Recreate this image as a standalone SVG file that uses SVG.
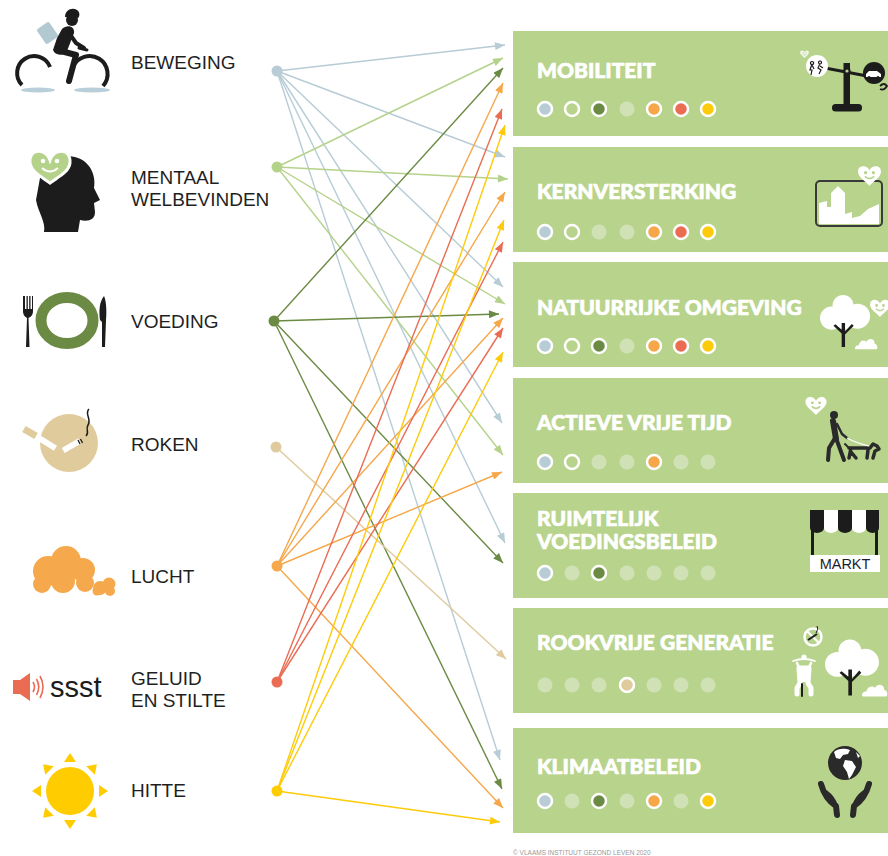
<svg xmlns="http://www.w3.org/2000/svg" width="888" height="856" viewBox="0 0 888 856">
  <style>
    .lbl { font-family: "Liberation Sans", Arial, sans-serif; font-size: 19px; fill: #1f1f1f; }
    .ttl { font-family: Lato, "Open Sans", sans-serif; font-weight: 900; font-size: 21px; fill: #ffffff; stroke: #ffffff; stroke-width: 0.7; }
    .box { fill: #b8d38c; }
    .dot { stroke: #ffffff; stroke-width: 2.5; }
    .off { fill: #d0e2b5; }
    .open { fill: #b8d38c; stroke: #ffffff; stroke-width: 2.5; }
    .ink { fill: #1c1c1c; }
    .wht { fill: #ffffff; }
    .conn line { stroke-width: 1.4; fill: none; }
    .c-bw { stroke: #b7ccd5; }
    .c-mw { stroke: #b5d28a; }
    .c-vd { stroke: #6b8a43; }
    .c-rk { stroke: #dfcb9d; }
    .c-lc { stroke: #f5a74a; }
    .c-gl { stroke: #ea6c53; }
    .c-ht { stroke: #fdcb0a; }
  </style>
  <defs>
    <marker id="ah-bw" viewBox="0 0 10 8" refX="10" refY="4" markerWidth="11" markerHeight="8" markerUnits="userSpaceOnUse" orient="auto"><path d="M0,0L10,4L0,8z" fill="#b7ccd5"/></marker>
    <marker id="ah-mw" viewBox="0 0 10 8" refX="10" refY="4" markerWidth="11" markerHeight="8" markerUnits="userSpaceOnUse" orient="auto"><path d="M0,0L10,4L0,8z" fill="#b5d28a"/></marker>
    <marker id="ah-vd" viewBox="0 0 10 8" refX="10" refY="4" markerWidth="11" markerHeight="8" markerUnits="userSpaceOnUse" orient="auto"><path d="M0,0L10,4L0,8z" fill="#6b8a43"/></marker>
    <marker id="ah-rk" viewBox="0 0 10 8" refX="10" refY="4" markerWidth="11" markerHeight="8" markerUnits="userSpaceOnUse" orient="auto"><path d="M0,0L10,4L0,8z" fill="#dfcb9d"/></marker>
    <marker id="ah-lc" viewBox="0 0 10 8" refX="10" refY="4" markerWidth="11" markerHeight="8" markerUnits="userSpaceOnUse" orient="auto"><path d="M0,0L10,4L0,8z" fill="#f5a74a"/></marker>
    <marker id="ah-gl" viewBox="0 0 10 8" refX="10" refY="4" markerWidth="11" markerHeight="8" markerUnits="userSpaceOnUse" orient="auto"><path d="M0,0L10,4L0,8z" fill="#ea6c53"/></marker>
    <marker id="ah-ht" viewBox="0 0 10 8" refX="10" refY="4" markerWidth="11" markerHeight="8" markerUnits="userSpaceOnUse" orient="auto"><path d="M0,0L10,4L0,8z" fill="#fdcb0a"/></marker>
    <!-- white heart with a smiling face, used on the policy tiles -->
    <symbol id="smile-heart" viewBox="0 0 20 18">
      <path d="M10,4.5C8,-0.5 0,-0.5 0,5.5C0,10.5 6,13.5 10,18C14,13.5 20,10.5 20,5.5C20,-0.5 12,-0.5 10,4.5Z" fill="#ffffff"/>
      <circle cx="6.6" cy="6.5" r="1.4" fill="#b8d38c"/>
      <circle cx="13.4" cy="6.5" r="1.4" fill="#b8d38c"/>
      <path d="M6,9.8Q10,13.6 14,9.8" fill="none" stroke="#b8d38c" stroke-width="1.4"/>
    </symbol>
    <!-- white tree with black trunk -->
    <symbol id="tree" viewBox="0 0 54 54">
      <circle cx="24" cy="11" r="11" fill="#ffffff"/>
      <circle cx="12" cy="24" r="12" fill="#ffffff"/>
      <circle cx="39" cy="22" r="13" fill="#ffffff"/>
      <circle cx="25" cy="26" r="10" fill="#ffffff"/>
      <path d="M22.5,54V40L14,32L16,30.5L22.5,36V29H26V38L33,30L35,32L26,41V54Z" fill="#1c1c1c"/>
    </symbol>
    <symbol id="cloud-w" viewBox="0 0 24 12">
      <path d="M1,12C-1,12 0,7 4,7.5C4.5,3.5 9,1 12,4C14,-0.5 21,0.5 20.5,6C24,6.5 24,12 22,12Z" fill="#ffffff"/>
    </symbol>
  </defs>

  <!-- ===== connectors ===== -->
  <g id="connectors" class="conn">
    <!-- beweging -->
    <line class="c-bw" x1="277" y1="71" x2="505" y2="45" marker-end="url(#ah-bw)"/>
    <line class="c-bw" x1="277" y1="71" x2="505" y2="157" marker-end="url(#ah-bw)"/>
    <line class="c-bw" x1="277" y1="71" x2="503" y2="287" marker-end="url(#ah-bw)"/>
    <line class="c-bw" x1="277" y1="71" x2="502" y2="423" marker-end="url(#ah-bw)"/>
    <line class="c-bw" x1="277" y1="71" x2="505" y2="543" marker-end="url(#ah-bw)"/>
    <line class="c-bw" x1="277" y1="71" x2="500" y2="760" marker-end="url(#ah-bw)"/>
    <!-- mentaal welbevinden -->
    <line class="c-mw" x1="277" y1="167" x2="503" y2="58" marker-end="url(#ah-mw)"/>
    <line class="c-mw" x1="277" y1="167" x2="508" y2="179" marker-end="url(#ah-mw)"/>
    <line class="c-mw" x1="277" y1="167" x2="505" y2="304" marker-end="url(#ah-mw)"/>
    <line class="c-mw" x1="277" y1="167" x2="503" y2="455" marker-end="url(#ah-mw)"/>
    <!-- voeding -->
    <line class="c-vd" x1="274" y1="321" x2="503" y2="68" marker-end="url(#ah-vd)"/>
    <line class="c-vd" x1="274" y1="321" x2="499" y2="314" marker-end="url(#ah-vd)"/>
    <line class="c-vd" x1="274" y1="321" x2="503" y2="563" marker-end="url(#ah-vd)"/>
    <line class="c-vd" x1="274" y1="321" x2="502" y2="789" marker-end="url(#ah-vd)"/>
    <!-- roken -->
    <line class="c-rk" x1="276" y1="447" x2="506" y2="659" marker-end="url(#ah-rk)"/>
    <!-- lucht -->
    <line class="c-lc" x1="277" y1="566" x2="503" y2="83" marker-end="url(#ah-lc)"/>
    <line class="c-lc" x1="277" y1="566" x2="505" y2="192" marker-end="url(#ah-lc)"/>
    <line class="c-lc" x1="277" y1="566" x2="503" y2="318" marker-end="url(#ah-lc)"/>
    <line class="c-lc" x1="277" y1="566" x2="502" y2="472" marker-end="url(#ah-lc)"/>
    <line class="c-lc" x1="277" y1="566" x2="503" y2="808" marker-end="url(#ah-lc)"/>
    <!-- geluid en stilte -->
    <line class="c-gl" x1="277" y1="682" x2="502" y2="109" marker-end="url(#ah-gl)"/>
    <line class="c-gl" x1="277" y1="682" x2="503" y2="242" marker-end="url(#ah-gl)"/>
    <line class="c-gl" x1="277" y1="682" x2="503" y2="328" marker-end="url(#ah-gl)"/>
    <!-- hitte -->
    <line class="c-ht" x1="277" y1="791" x2="505" y2="125" marker-end="url(#ah-ht)"/>
    <line class="c-ht" x1="277" y1="791" x2="504" y2="220" marker-end="url(#ah-ht)"/>
    <line class="c-ht" x1="277" y1="791" x2="503" y2="352" marker-end="url(#ah-ht)"/>
    <line class="c-ht" x1="277" y1="791" x2="500" y2="822" marker-end="url(#ah-ht)"/>
  </g>

  <!-- ===== health themes (left) ===== -->
  <g id="n-beweging">
    <ellipse cx="38" cy="90" rx="17" ry="2.6" fill="#b8cfd9"/>
    <ellipse cx="92" cy="90" rx="18" ry="2.6" fill="#b8cfd9"/>
    <path d="M22,85A17,17 0 1 1 50,67" fill="none" stroke="#1c1c1c" stroke-width="4"/>
    <path d="M73,67A18,18 0 1 1 103,86" fill="none" stroke="#1c1c1c" stroke-width="4"/>
    <rect x="40" y="24" width="15" height="18" rx="2" fill="#b3c9d2" transform="rotate(-35 47.5 33)"/>
    <path d="M65,17C65,10 72,7 77,10C80,12 80,16 78,18Z" class="ink"/>
    <circle cx="72" cy="20" r="6" class="ink"/>
    <path d="M62,29C67,24 75,26 74,33L67,51C64,56 55,56 53,50L57,38Z" class="ink"/>
    <path d="M69,33L76,43L84,48" fill="none" stroke="#1c1c1c" stroke-width="4" stroke-linecap="round" stroke-linejoin="round"/>
    <path d="M57,50L76,55L69,81" fill="none" stroke="#1c1c1c" stroke-width="6" stroke-linecap="round" stroke-linejoin="round"/>
    <path d="M79,48L87,50" stroke="#1c1c1c" stroke-width="3" stroke-linecap="round"/>
    <text class="lbl" x="131" y="69">BEWEGING</text>
    <circle cx="277" cy="71" r="5.5" fill="#b7ccd5"/>
  </g>

  <g id="n-mentaal">
    <path d="M40,178C38,160 60,152 78,158C92,163 96,178 94,188L100,200L94,203L95,212C95,220 88,222 80,220L78,232L44,232C46,222 38,212 36,200Z" class="ink"/>
    <path d="M50,160C46,148 29,148 30,163C31,172 42,177 50,183C58,177 69,172 70,163C71,148 54,148 50,160Z" fill="#b5d28a" stroke="#ffffff" stroke-width="3"/>
    <circle cx="43" cy="161" r="2.3" fill="#ffffff"/>
    <circle cx="57" cy="161" r="2.3" fill="#ffffff"/>
    <path d="M42,168Q50,175 58,168" fill="none" stroke="#ffffff" stroke-width="2"/>
    <text class="lbl" x="131" y="184">MENTAAL</text>
    <text class="lbl" x="131" y="206">WELBEVINDEN</text>
    <circle cx="277" cy="167" r="5.5" fill="#b5d28a"/>
  </g>

  <g id="n-voeding">
    <path d="M23,296V311C23,316 26,317 27,318L26,347H29.5L28.5,318C30,317 33,316 33,311V296H32V309H30.5V296H29.2V309H27.8V296H26.5V309H25V296Z" class="ink"/>
    <ellipse cx="67" cy="320.5" rx="26" ry="23" fill="none" stroke="#6b8a43" stroke-width="11"/>
    <path d="M104,296C99,302 99,312 100,320L102,322L102,347H105L106,320C107,310 106,300 104,296Z" class="ink"/>
    <text class="lbl" x="131" y="328">VOEDING</text>
    <circle cx="274" cy="321" r="5.5" fill="#6b8a43"/>
  </g>

  <g id="n-roken">
    <circle cx="69" cy="443" r="29" fill="#e0cb9c"/>
    <rect x="23" y="429" width="14" height="7" fill="#e0cb9c" transform="rotate(30 30 432.5)"/>
    <rect x="38" y="440" width="19" height="6" fill="#ffffff" transform="rotate(32 47 443)"/>
    <rect x="62" y="443" width="19" height="6" fill="#ffffff" transform="rotate(-30 71 446)"/>
    <path d="M78,440L80,444M80.5,439L82.5,443" stroke="#1c1c1c" stroke-width="1.3"/>
    <path d="M89,409C84,414 92,419 88,425C85,430 90,432 86,436" fill="none" stroke="#1c1c1c" stroke-width="1.5"/>
    <text class="lbl" x="131" y="451">ROKEN</text>
    <circle cx="276" cy="447" r="5.5" fill="#dfcb9d"/>
  </g>

  <g id="n-lucht" fill="#f6a94c">
    <circle cx="48" cy="571" r="15"/>
    <circle cx="66" cy="561" r="15"/>
    <circle cx="83" cy="570" r="12"/>
    <circle cx="85" cy="583" r="9"/>
    <circle cx="63" cy="581" r="12"/>
    <circle cx="42" cy="584" r="9"/>
    <circle cx="100" cy="588" r="7"/>
    <circle cx="109" cy="584" r="6.5"/>
    <circle cx="110" cy="591" r="5"/>
    <circle cx="97" cy="591" r="4.5"/>
    <text class="lbl" x="131" y="583">LUCHT</text>
    <circle cx="277" cy="566" r="5.5"/>
  </g>

  <g id="n-geluid">
    <path d="M13,680H20L30,673V701L20,694H13Z" fill="#ea6c53"/>
    <path d="M33,682Q36,687 33,692M36.5,679Q41,687 36.5,695M40,676Q46,687 40,698" fill="none" stroke="#ea6c53" stroke-width="1.6"/>
    <text x="50" y="697" font-family="Liberation Sans, Arial, sans-serif" font-size="29" fill="#1c1c1c">ssst</text>
    <text class="lbl" x="131" y="685">GELUID</text>
    <text class="lbl" x="131" y="707">EN STILTE</text>
    <circle cx="277" cy="682" r="5.5" fill="#ea6c53"/>
  </g>

  <g id="n-hitte" fill="#ffcc00">
    <circle cx="70" cy="791" r="24"/>
    <g transform="translate(70 791)">
      <path d="M-6,-29L0,-38L6,-29Z"/>
      <path d="M-6,-29L0,-38L6,-29Z" transform="rotate(45)"/>
      <path d="M-6,-29L0,-38L6,-29Z" transform="rotate(90)"/>
      <path d="M-6,-29L0,-38L6,-29Z" transform="rotate(135)"/>
      <path d="M-6,-29L0,-38L6,-29Z" transform="rotate(180)"/>
      <path d="M-6,-29L0,-38L6,-29Z" transform="rotate(225)"/>
      <path d="M-6,-29L0,-38L6,-29Z" transform="rotate(270)"/>
      <path d="M-6,-29L0,-38L6,-29Z" transform="rotate(315)"/>
    </g>
    <text class="lbl" x="131" y="797">HITTE</text>
    <circle cx="277" cy="791" r="5.5"/>
  </g>

  <!-- ===== policy tiles (right) ===== -->
  <g id="b-mobiliteit">
    <rect class="box" x="513" y="31" width="380" height="105"/>
    <text class="ttl" x="537" y="78">MOBILITEIT</text>
    <circle class="dot" cx="545" cy="109" r="7" fill="#b7ccd5"/>
    <circle class="open" cx="572" cy="109" r="7"/>
    <circle class="dot" cx="599" cy="109" r="7" fill="#6b8a43"/>
    <circle class="off" cx="627" cy="109" r="7.5"/>
    <circle class="dot" cx="654" cy="109" r="7" fill="#f5a74a"/>
    <circle class="dot" cx="681" cy="109" r="7" fill="#ea6c53"/>
    <circle class="dot" cx="708" cy="109" r="7" fill="#fdcb0a"/>
    <path d="M825,68L867,76" stroke="#1c1c1c" stroke-width="3"/>
    <rect x="843.5" y="63" width="6.5" height="44" class="ink"/>
    <circle cx="847" cy="71" r="3.6" class="ink"/>
    <circle cx="847" cy="71" r="1.6" fill="#b8d38c"/>
    <rect x="832" y="104" width="30" height="7.5" rx="3.5" class="ink"/>
    <circle cx="817" cy="66" r="11" class="wht"/>
    <path d="M812,61.5a1.6,1.6 0 1 0 0.1,0ZM812,64L810,70L812,70L811,75M812,65L814,69M820,61a1.5,1.5 0 1 0 0.1,0ZM820,63.5L818,68L821,70L819,74M820,66L823,68" fill="none" stroke="#1c1c1c" stroke-width="1.2"/>
    <circle cx="874" cy="73" r="11" class="ink"/>
    <path d="M866,77V74L869,71H877L881,74V77Z" fill="#ffffff"/>
    <circle cx="869" cy="77.5" r="1.6" class="ink"/>
    <circle cx="878" cy="77.5" r="1.6" class="ink"/>
    <use href="#smile-heart" x="800" y="50" width="9" height="8" opacity="0.8"/>
    <path d="M880,86Q884,82 887,86Q884,91 880,89" fill="none" stroke="#1c1c1c" stroke-width="1.8"/>
  </g>

  <g id="b-kernversterking">
    <rect class="box" x="513" y="147" width="380" height="105"/>
    <text class="ttl" x="537" y="199">KERNVERSTERKING</text>
    <circle class="dot" cx="545" cy="232" r="7" fill="#b7ccd5"/>
    <circle class="open" cx="572" cy="232" r="7"/>
    <circle class="off" cx="599" cy="232" r="7.5"/>
    <circle class="off" cx="627" cy="232" r="7.5"/>
    <circle class="dot" cx="654" cy="232" r="7" fill="#f5a74a"/>
    <circle class="dot" cx="681" cy="232" r="7" fill="#ea6c53"/>
    <circle class="dot" cx="708" cy="232" r="7" fill="#fdcb0a"/>
    <rect x="816" y="181" width="66" height="45" rx="4" fill="none" stroke="#3a3a3a" stroke-width="2"/>
    <path d="M819,224V203L827,201V207H831V193L838,186L845,193V214L852,212V218L860,216L868,209L879,204V224Z" class="wht"/>
    <use href="#smile-heart" x="858" y="165" width="23" height="21"/>
  </g>

  <g id="b-natuurrijke">
    <rect class="box" x="513" y="262" width="380" height="105"/>
    <text class="ttl" x="537" y="315">NATUURRIJKE OMGEVING</text>
    <circle class="dot" cx="545" cy="346" r="7" fill="#b7ccd5"/>
    <circle class="open" cx="572" cy="346" r="7"/>
    <circle class="dot" cx="599" cy="346" r="7" fill="#6b8a43"/>
    <circle class="off" cx="627" cy="346" r="7.5"/>
    <circle class="dot" cx="654" cy="346" r="7" fill="#f5a74a"/>
    <circle class="dot" cx="681" cy="346" r="7" fill="#ea6c53"/>
    <circle class="dot" cx="708" cy="346" r="7" fill="#fdcb0a"/>
    <use href="#tree" x="820" y="295" width="52" height="52"/>
    <use href="#cloud-w" x="855" y="338" width="23" height="11.5"/>
    <use href="#smile-heart" x="870" y="299" width="20" height="18"/>
  </g>

  <g id="b-actieve">
    <rect class="box" x="513" y="378" width="380" height="105"/>
    <text class="ttl" x="537" y="430">ACTIEVE VRIJE TIJD</text>
    <circle class="dot" cx="545" cy="462" r="7" fill="#b7ccd5"/>
    <circle class="open" cx="572" cy="462" r="7"/>
    <circle class="off" cx="599" cy="462" r="7.5"/>
    <circle class="off" cx="627" cy="462" r="7.5"/>
    <circle class="dot" cx="654" cy="462" r="7" fill="#f5a74a"/>
    <circle class="off" cx="681" cy="462" r="7.5"/>
    <circle class="off" cx="708" cy="462" r="7.5"/>
    <use href="#smile-heart" x="805" y="396" width="22" height="19"/>
    <g fill="#2a2a2a" stroke="#2a2a2a" stroke-linecap="round" stroke-linejoin="round">
      <circle cx="834" cy="415" r="4" stroke="none"/>
      <path d="M833,421L836,439" stroke-width="6" fill="none"/>
      <path d="M835,438L829,448L828,460M836,438L840,449L844,460" stroke-width="4" fill="none"/>
      <path d="M837,424L842,434L847,438" stroke-width="2.5" fill="none"/>
      <path d="M849,448L870,448L873,444L877,446L879,449L875,451L873,458M851,448L849,458M868,450L867,458M851,452L856,458" stroke-width="3.5" fill="none"/>
      <path d="M849,448L845,444" stroke-width="2" fill="none"/>
    </g>
    <path d="M847,438Q856,443 869,446" fill="none" stroke="#ffffff" stroke-width="1.2"/>
  </g>

  <g id="b-ruimtelijk">
    <rect class="box" x="513" y="493" width="380" height="105"/>
    <text class="ttl" x="537" y="526">RUIMTELIJK</text>
    <text class="ttl" x="537" y="549">VOEDINGSBELEID</text>
    <circle class="dot" cx="545" cy="573" r="7" fill="#b7ccd5"/>
    <circle class="off" cx="572" cy="573" r="7.5"/>
    <circle class="dot" cx="599" cy="573" r="7" fill="#6b8a43"/>
    <circle class="off" cx="627" cy="573" r="7.5"/>
    <circle class="off" cx="654" cy="573" r="7.5"/>
    <circle class="off" cx="681" cy="573" r="7.5"/>
    <circle class="off" cx="708" cy="573" r="7.5"/>
    <path d="M810,510H824V528A7,5 0 0 1 810,528Z" class="ink"/>
    <path d="M824,510H838V528A7,5 0 0 1 824,528Z" class="wht"/>
    <path d="M838,510H852V528A7,5 0 0 1 838,528Z" class="ink"/>
    <path d="M852,510H866V528A7,5 0 0 1 852,528Z" class="wht"/>
    <path d="M866,510H879V528A6.5,5 0 0 1 866,528Z" class="ink"/>
    <rect x="811" y="528" width="3" height="28" class="ink"/>
    <rect x="875" y="528" width="3" height="28" class="ink"/>
    <rect x="810" y="555" width="70" height="17" class="wht"/>
    <text x="845" y="569" text-anchor="middle" font-family="Liberation Sans, Arial, sans-serif" font-size="14.5" fill="#1c1c2a">MARKT</text>
  </g>

  <g id="b-rookvrije">
    <rect class="box" x="513" y="608" width="380" height="105"/>
    <text class="ttl" x="537" y="650">ROOKVRIJE GENERATIE</text>
    <circle class="off" cx="545" cy="685" r="7.5"/>
    <circle class="off" cx="572" cy="685" r="7.5"/>
    <circle class="off" cx="599" cy="685" r="7.5"/>
    <circle class="dot" cx="627" cy="685" r="7" fill="#dfcb9d"/>
    <circle class="off" cx="654" cy="685" r="7.5"/>
    <circle class="off" cx="681" cy="685" r="7.5"/>
    <circle class="off" cx="708" cy="685" r="7.5"/>
    <circle cx="813" cy="637" r="8.5" fill="none" stroke="#ffffff" stroke-width="2.5"/>
    <path d="M807,631L819,643" stroke="#ffffff" stroke-width="2.2"/>
    <path d="M808,640L817,634" stroke="#1c1c1c" stroke-width="2"/>
    <path d="M816,633Q819,629 817,626" fill="none" stroke="#1c1c1c" stroke-width="1"/>
    <g fill="#ffffff" stroke="#ffffff" stroke-linecap="round" stroke-linejoin="round">
      <path d="M793,661Q804,657 815,661" fill="none" stroke-width="1.8"/>
      <circle cx="804" cy="657" r="2.6" stroke="none"/>
      <path d="M797,663L800,670M811,663L808,670" fill="none" stroke-width="2.6"/>
      <path d="M799,668H809L808,683L811,688V694M799,668L800,683L797,688V694" fill="none" stroke-width="5"/>
      <path d="M800,669H808V682H800Z" stroke="none"/>
      <path d="M802,684V696" fill="none" stroke="#1c1c1c" stroke-width="2"/>
    </g>
    <use href="#tree" x="825" y="638" width="56" height="59"/>
    <use href="#cloud-w" x="862" y="683" width="26" height="14"/>
  </g>

  <g id="b-klimaat">
    <rect class="box" x="513" y="728" width="380" height="105"/>
    <text class="ttl" x="537" y="774">KLIMAATBELEID</text>
    <circle class="dot" cx="545" cy="801" r="7" fill="#b7ccd5"/>
    <circle class="off" cx="572" cy="801" r="7.5"/>
    <circle class="dot" cx="599" cy="801" r="7" fill="#6b8a43"/>
    <circle class="off" cx="627" cy="801" r="7.5"/>
    <circle class="dot" cx="654" cy="801" r="7" fill="#f5a74a"/>
    <circle class="off" cx="681" cy="801" r="7.5"/>
    <circle class="dot" cx="708" cy="801" r="7" fill="#fdcb0a"/>
    <circle cx="845" cy="763" r="17" fill="#2a2a2a"/>
    <path d="M834,752C838,748 845,748 850,750L848,754L843,755L840,759L836,758Z" class="wht"/>
    <path d="M845,760L852,761L856,767L852,775L849,779L847,772L843,766Z" class="wht"/>
    <path d="M856,752L860,756L858,758Z" class="wht"/>
    <!-- cupped hands -->
    <g fill="none" stroke="#2a2a2a" stroke-linecap="round" stroke-linejoin="round">
      <path d="M837,815L836,806C830,802 824,795 821,784" stroke-width="6"/>
      <path d="M836,806C834,799 830,795 826,792" stroke-width="4"/>
      <path d="M853,815L854,806C860,802 866,795 869,784" stroke-width="6"/>
      <path d="M854,806C856,799 860,795 864,792" stroke-width="4"/>
    </g>
  </g>

  <text x="513" y="854.5" font-family="Liberation Sans, Arial, sans-serif" font-size="6.5" fill="#9a9a9a">© VLAAMS INSTITUUT GEZOND LEVEN 2020</text>
</svg>
